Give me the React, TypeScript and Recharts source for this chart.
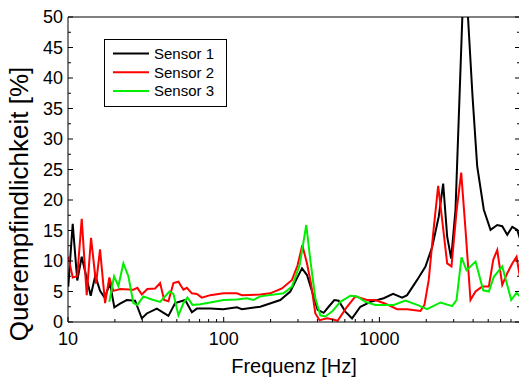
import React from 'react';
import { LineChart, Line, XAxis, YAxis, Legend, Label } from 'recharts';

const FONT = '"Liberation Sans", Arial, Helvetica, sans-serif';

// ---- Data (frequency in Hz, cross sensitivity in %) ----
const S1_FREQ = [10.04, 10.72, 11.47, 12.25, 13.99, 14.98, 16.06, 17.17, 18.62, 19.85, 21.6, 23.85, 26.97, 29.79, 32.07, 37.2, 44.16, 48.77, 56.55, 62.46, 67.24, 81.9, 99.3, 121.6, 130.9, 171.7, 230.9, 267.7, 295.6, 318.4, 342.8, 378, 401.1, 438.4, 472.1, 513.6, 547.3, 604.4, 667.4, 754.8, 875.2, 1066, 1225, 1400, 1507, 1748, 1977, 2183, 2406, 2568, 2725, 2891, 3082, 3521, 3964, 4249, 4685, 5174, 5714, 6153, 6626, 7136, 7683, 7986];
const S1_VAL = [5.8, 16.1, 6.8, 10.7, 4.3, 7.6, 5.1, 4.0, 6.3, 2.4, 3.0, 3.6, 3.5, 0.6, 1.4, 2.2, 1.0, 3.1, 3.6, 1.6, 2.2, 2.2, 2.1, 2.4, 2.1, 2.5, 3.6, 5.0, 7.2, 8.8, 7.7, 4.2, 2.0, 1.5, 2.5, 3.6, 3.5, 1.7, 0.6, 2.5, 3.3, 3.9, 4.6, 4.0, 4.4, 6.9, 9.1, 12.3, 17.3, 22.7, 14.0, 10.4, 18.4, 60, 37, 25.5, 18.4, 15.1, 15.9, 15.7, 14.3, 15.6, 15.1, 13.7];

const S2_FREQ = [10.04, 10.72, 11.47, 12.25, 13.19, 14.06, 15.14, 16.06, 17.3, 18.43, 19.56, 21.6, 26.3, 27.91, 29.79, 32.36, 36.27, 39.05, 41.44, 44.16, 47.55, 51.21, 55.14, 57.98, 62.46, 67.24, 72.4, 81.9, 99.7, 121.6, 130.9, 171.7, 199.1, 236.7, 274.5, 298.3, 319.8, 342.8, 363.8, 387.7, 413.1, 460.9, 504.1, 539.2, 619.8, 701.1, 833.5, 942.6, 1093, 1300, 1507, 1835, 1947, 2075, 2215, 2385, 2531, 2725, 2904, 3128, 3353, 3574, 3847, 4144, 4575, 5045, 5385, 5714, 6153, 6626, 7136, 7603, 7986];
const S2_VAL = [10.7, 7.3, 7.5, 16.9, 4.4, 13.8, 6.3, 11.9, 3.1, 7.3, 5.1, 5.4, 5.3, 5.6, 4.5, 5.4, 5.5, 6.4, 3.6, 3.4, 6.4, 6.6, 5.3, 5.6, 4.7, 4.6, 4.0, 4.4, 4.7, 4.7, 4.4, 4.5, 4.7, 5.5, 6.9, 9.3, 12.6, 9.6, 6.3, 1.4, 0.3, 0.6, 0.4, 0.2, 2.5, 4.2, 3.6, 3.6, 3.0, 2.1, 2.1, 1.8, 2.8, 6.9, 14.5, 22.3, 16.7, 9.6, 9.1, 18.1, 24.5, 15.1, 3.6, 5.0, 5.8, 5.8, 10.2, 11.8, 6.1, 8.0, 9.6, 10.7, 7.4];

const S3_FREQ = [18.43, 19.76, 21.06, 22.68, 24.42, 26.3, 27.91, 30.49, 34.54, 39.05, 44.8, 47.55, 51.21, 55.14, 58.51, 63.03, 70.62, 81.9, 99.7, 121.6, 141, 154.8, 171.7, 242.4, 274.5, 307.3, 339.2, 359.9, 387.7, 417.5, 449.6, 496.4, 561.4, 650.9, 718.8, 812.8, 942.6, 1236, 1470, 1748, 2027, 2468, 2935, 3128, 3368, 3627, 4144, 4645, 5045, 5433, 6153, 7031, 7603, 7986];
const S3_VAL = [3.3, 7.5, 5.9, 9.6, 7.5, 3.1, 2.8, 4.2, 3.7, 3.3, 5.0, 4.6, 1.1, 3.1, 4.0, 2.8, 2.9, 3.2, 3.6, 3.7, 3.9, 3.6, 4.2, 4.7, 5.8, 9.3, 15.9, 10.2, 3.9, 1.1, 0.9, 1.7, 3.3, 4.3, 4.2, 3.3, 2.8, 2.8, 3.5, 2.8, 2.1, 3.2, 2.6, 3.6, 10.6, 8.5, 9.9, 5.2, 5.0, 7.4, 9.1, 3.6, 4.8, 4.2];

const SERIES_NAMES = ['Sensor 1', 'Sensor 2', 'Sensor 3'];
const SERIES_COLORS = ['#000000', '#ff0000', '#00ee00'];

const X_DOMAIN = [10, 8000];
const X_MAJOR = [10, 100, 1000];
const X_MINOR = [20, 30, 40, 50, 60, 70, 80, 90, 200, 300, 400, 500, 600, 700, 800, 900, 2000, 3000, 4000, 5000, 6000, 7000];
const Y_DOMAIN = [0, 50];
const Y_MAJOR = [0, 5, 10, 15, 20, 25, 30, 35, 40, 45, 50];
const Y_MINOR = [2.5, 7.5, 12.5, 17.5, 22.5, 27.5, 32.5, 37.5, 42.5, 47.5];

const X_LABEL = 'Frequenz [Hz]';
const Y_LABEL = 'Querempfindlichkeit [%]';

const zip = (f: number[], v: number[]) => f.map((x, i) => ({ f: x, v: v[i] }));
const DATA = [zip(S1_FREQ, S1_VAL), zip(S2_FREQ, S2_VAL), zip(S3_FREQ, S3_VAL)];

const X_ALL = [...X_MAJOR, ...X_MINOR].sort((a, b) => a - b);
const Y_ALL = [...Y_MAJOR, ...Y_MINOR].sort((a, b) => a - b);

const MAJ = 5;
const MIN = 3;

const BottomTick = (props: any) => {
  const { x, y, payload } = props;
  const major = X_MAJOR.includes(payload.value);
  return (
    <g>
      <line x1={x} x2={x} y1={y} y2={y - (major ? MAJ : MIN)} stroke="#000" strokeWidth={1} />
      {major && (
        <text x={x} y={y + 10} dy="0.71em" textAnchor="middle" fontSize={18} fontFamily={FONT} fill="#000">
          {payload.value}
        </text>
      )}
    </g>
  );
};

const TopTick = (props: any) => {
  const { x, y, payload } = props;
  const major = X_MAJOR.includes(payload.value);
  return <line x1={x} x2={x} y1={y} y2={y + (major ? MAJ : MIN)} stroke="#000" strokeWidth={1} />;
};

const LeftTick = (props: any) => {
  const { x, y, payload } = props;
  const major = Y_MAJOR.includes(payload.value);
  return (
    <g>
      <line x1={x} x2={x + (major ? MAJ : MIN)} y1={y} y2={y} stroke="#000" strokeWidth={1} />
      {major && (
        <text x={x - 5} y={y} dy="0.355em" textAnchor="end" fontSize={18} fontFamily={FONT} fill="#000">
          {payload.value}
        </text>
      )}
    </g>
  );
};

const RightTick = (props: any) => {
  const { x, y, payload } = props;
  const major = Y_MAJOR.includes(payload.value);
  return <line x1={x} x2={x - (major ? MAJ : MIN)} y1={y} y2={y} stroke="#000" strokeWidth={1} />;
};

const LegendBox = () => (
  <svg width={124} height={69} style={{ display: 'block' }}>
    <rect x={0.5} y={0.5} width={122} height={67} fill="#fff" stroke="#000" strokeWidth={1} />
    {SERIES_NAMES.map((name, i) => {
      const cy = 14.5 + i * 18.8;
      return (
        <g key={name}>
          <line x1={9} x2={45} y1={cy} y2={cy} stroke={SERIES_COLORS[i]} strokeWidth={2} />
          <text x={50} y={cy} dy="0.35em" fontSize={15} fontFamily={FONT} fill="#000">
            {name}
          </text>
        </g>
      );
    })}
  </svg>
);

export default function App() {
  return (
    <div style={{ position: 'absolute', left: 0, top: 0, width: 519, height: 379, overflow: 'hidden', background: '#fff' }}>
      <LineChart width={520} height={379} margin={{ top: 17, right: 0, bottom: 0, left: 8 }}>
        <XAxis
          xAxisId="x"
          dataKey="f"
          type="number"
          scale="log"
          domain={X_DOMAIN}
          allowDataOverflow
          ticks={X_ALL}
          interval={0}
          height={57}
          tickSize={0}
          tickMargin={0}
          tickLine={false}
          tick={<BottomTick />}
          axisLine={{ stroke: '#000', strokeWidth: 1 }}
        >
          <Label
            content={(p: any) => {
              const vb = p.viewBox || { x: 68, y: 322, width: 452 };
              return (
                <text x={vb.x + vb.width / 2} y={vb.y + 51} textAnchor="middle" fontSize={20} fontFamily={FONT} fill="#000">
                  {X_LABEL}
                </text>
              );
            }}
          />
        </XAxis>
        <XAxis
          xAxisId="top"
          orientation="top"
          mirror
          type="number"
          scale="log"
          domain={X_DOMAIN}
          allowDataOverflow
          ticks={X_ALL}
          interval={0}
          height={1}
          tickSize={0}
          tickMargin={0}
          tickLine={false}
          tick={<TopTick />}
          axisLine={{ stroke: '#000', strokeWidth: 1 }}
        />
        <YAxis
          yAxisId="y"
          type="number"
          domain={Y_DOMAIN}
          allowDataOverflow
          ticks={Y_ALL}
          interval={0}
          width={60}
          tickSize={0}
          tickMargin={0}
          tickLine={false}
          tick={<LeftTick />}
          axisLine={{ stroke: '#000', strokeWidth: 1 }}
        >
          <Label
            content={(p: any) => {
              const vb = p.viewBox || { x: 8, y: 17, width: 60, height: 305 };
              const cx = 28;
              const cy = vb.y + vb.height / 2 + 34.5;
              return (
                <text x={cx} y={cy} transform={`rotate(-90 ${cx} ${cy})`} textAnchor="middle" fontSize={26} fontFamily={FONT} fill="#000">
                  {Y_LABEL}
                </text>
              );
            }}
          />
        </YAxis>
        <YAxis
          yAxisId="right"
          orientation="right"
          mirror
          type="number"
          domain={Y_DOMAIN}
          allowDataOverflow
          ticks={Y_ALL}
          interval={0}
          width={1}
          tickSize={0}
          tickMargin={0}
          tickLine={false}
          tick={<RightTick />}
          axisLine={{ stroke: '#000', strokeWidth: 1 }}
        />
        <Legend
          layout="horizontal"
          verticalAlign="middle"
          align="center"
          wrapperStyle={{ left: 104, top: 39, width: 124, height: 69 }}
          content={<LegendBox />}
        />
        {DATA.map((d, i) => (
          <Line
            key={SERIES_NAMES[i]}
            xAxisId="x"
            yAxisId="y"
            data={d}
            dataKey="v"
            name={SERIES_NAMES[i]}
            type="linear"
            stroke={SERIES_COLORS[i]}
            strokeWidth={2}
            dot={false}
            activeDot={false}
            isAnimationActive={false}
          />
        ))}
      </LineChart>
    </div>
  );
}
